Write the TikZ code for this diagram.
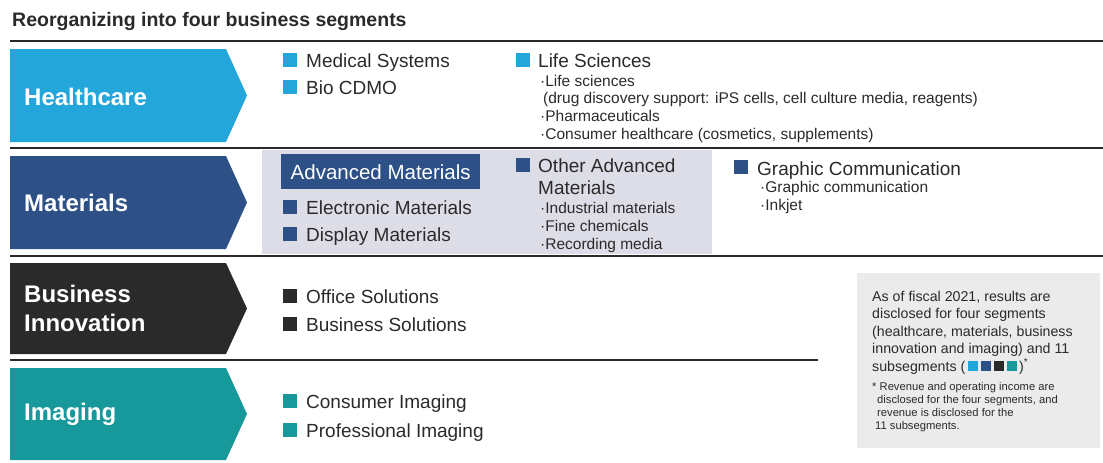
\documentclass[tikz,border=0pt]{standalone}
\usepackage{fontspec}
\setmainfont{Liberation Sans}

\definecolor{hccyan}{HTML}{23A6D9}
\definecolor{matblue}{HTML}{2D5087}
\definecolor{bizblack}{HTML}{2A2A2A}
\definecolor{imgteal}{HTML}{17989A}
\definecolor{matgrey}{HTML}{DCDDE6}
\definecolor{notegrey}{HTML}{EBEBEB}

\newcommand{\headingfont}{\fontsize{19.5}{22}\bfseries}
\newcommand{\segfont}{\fontsize{24}{29}\bfseries}
\newcommand{\itemfont}{\fontsize{19}{22}\selectfont}
\newcommand{\detailfont}{\fontsize{15.5}{17.6}\selectfont}
\newcommand{\notefont}{\fontsize{14.2}{17.5}\selectfont}
\newcommand{\notefnfont}{\fontsize{11.2}{13}\selectfont}
\newcommand{\legendsq}[1]{\textcolor{#1}{\rule{10pt}{10pt}}}

\begin{document}
\begin{tikzpicture}[x=1pt,y=-1pt,
    txt/.style={anchor=base west,inner sep=0pt,text=bizblack},
    itemtxt/.style={txt,font=\itemfont},
    detailtxt/.style={txt,font=\detailfont,align=left},
    seglabel/.style={inner sep=0pt,text=white,font=\segfont,align=left},
    sepline/.style={line width=2.6pt,draw=bizblack}]
\useasboundingbox (0,0) rectangle (1103,463);

% Title
\node[txt,font=\headingfont] (title) at (12,27) {Reorganizing into four business segments};

% Separating rules
\draw[sepline] (10,41) -- (1103,41);
\draw[sepline] (10,148) -- (1103,148);
\draw[sepline] (10,256) -- (1103,256);
\draw[sepline] (10,360) -- (818,360);

% Grey panel behind advanced materials
\fill[matgrey] (262,150) rectangle (712,254);

% Chevrons
\fill[hccyan] (10,49) -- (226,49) -- (247,95.5) -- (226,142) -- (10,142) -- cycle;
\fill[matblue] (10,156) -- (226,156) -- (247,202.5) -- (226,249) -- (10,249) -- cycle;
\fill[bizblack] (10,263) -- (226,263) -- (247,308.5) -- (226,354) -- (10,354) -- cycle;
\fill[imgteal] (10,368) -- (226,368) -- (247,414) -- (226,460) -- (10,460) -- cycle;
\node[seglabel,anchor=base west] (healthcare) at (24,105) {Healthcare};
\node[seglabel,anchor=base west] (materials) at (24,211) {Materials};
\node[seglabel,anchor=west] (business) at (24,308) {Business\\Innovation};
\node[seglabel,anchor=base west] (imaging) at (24,420) {Imaging};

% Healthcare subsegments
\fill[hccyan] (283,53) rectangle (297,67);
\fill[hccyan] (283,80) rectangle (297,94);
\fill[hccyan] (516,53) rectangle (530,67);
\node[itemtxt] (medsys) at (306,67) {Medical Systems};
\node[itemtxt] (biocdmo) at (306,94) {Bio CDMO};
\node[itemtxt] (lifesci) at (538,67) {Life Sciences};
% (last line sits on the given point)
\node[detailtxt] (lifesciitems) at (540,139) {·Life sciences\\
  \hspace*{3pt}(drug discovery support: iPS cells, cell culture media, reagents)\\
  ·Pharmaceuticals\\
  ·Consumer healthcare (cosmetics, supplements)};

% Materials subsegments
\node[fill=matblue,text=white,font=\fontsize{20.5}{24}\selectfont,inner sep=0pt,
  minimum width=199,minimum height=35,anchor=north west] (advmat) at (281,154) {Advanced Materials};
\fill[matblue] (283,200) rectangle (297,214);
\fill[matblue] (283,227) rectangle (297,241);
\fill[matblue] (516,158) rectangle (530,172);
\fill[matblue] (734,160) rectangle (748,174);
\node[itemtxt] (elecmat) at (306,214) {Electronic Materials};
\node[itemtxt] (dispmat) at (306,241) {Display Materials};
\node[itemtxt,align=left] (otheradv) at (538,194) {Other Advanced\\Materials};
\node[detailtxt] (otheritems) at (540,249) {·Industrial materials\\·Fine chemicals\\·Recording media};
\node[itemtxt] (graphcomm) at (757,175) {Graphic Communication};
\node[detailtxt] (graphitems) at (760,210.5) {·Graphic communication\\·Inkjet};

% Business Innovation subsegments
\fill[bizblack] (283,289) rectangle (297,303);
\fill[bizblack] (283,317) rectangle (297,331);
\node[itemtxt] (officesol) at (306,303) {Office Solutions};
\node[itemtxt] (bizsol) at (306,331) {Business Solutions};

% Imaging subsegments
\fill[imgteal] (283,394) rectangle (297,408);
\fill[imgteal] (283,423) rectangle (297,437);
\node[itemtxt] (consimg) at (306,408) {Consumer Imaging};
\node[itemtxt] (profimg) at (306,437) {Professional Imaging};

% Note on disclosure
\fill[notegrey] (857,273) rectangle (1100,448);
\node[txt,font=\notefont,align=left] (note) at (872,371) {As of fiscal 2021, results are\\
  disclosed for four segments\\
  (healthcare, materials, business\\
  innovation and imaging) and 11\\
  subsegments (\,\legendsq{hccyan}\hspace{3pt}\legendsq{matblue}\hspace{3pt}\legendsq{bizblack}\hspace{3pt}\legendsq{imgteal}\,)\textsuperscript{*}};
\node[txt,font=\notefnfont,align=left] (notefn) at (872,429) {* Revenue and operating income are\\
  \hspace*{5pt}disclosed for the four segments, and\\
  \hspace*{5pt}revenue is disclosed for the\\
  \hspace*{3pt}11 subsegments.};
\end{tikzpicture}
\end{document}
